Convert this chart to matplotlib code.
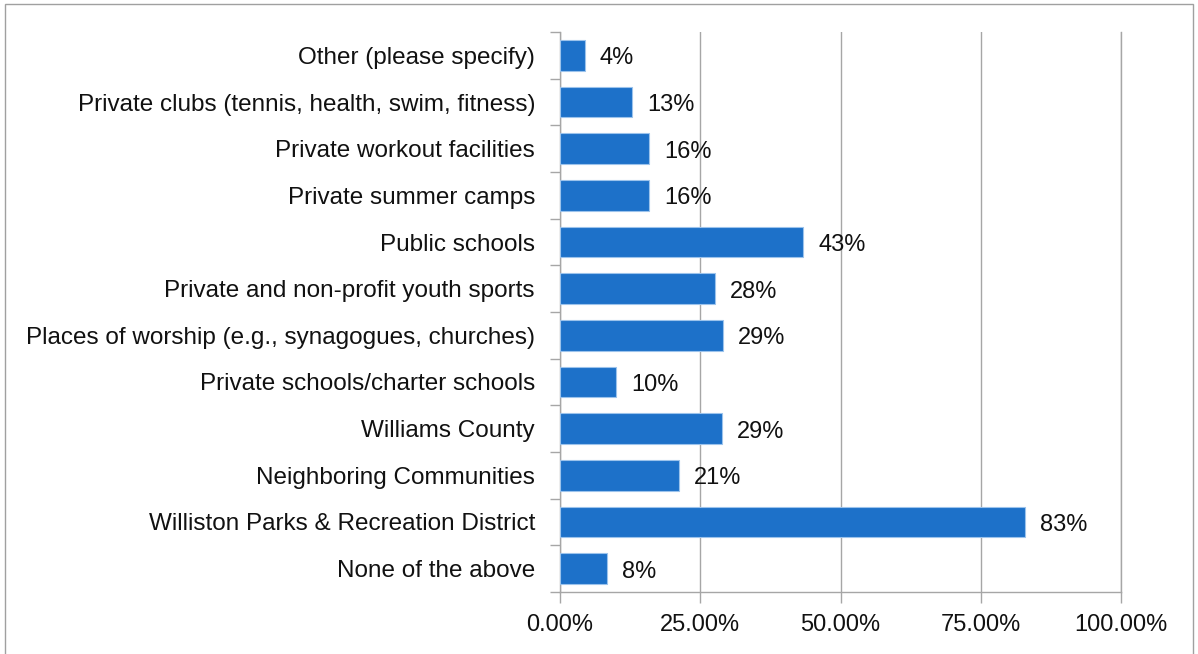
import matplotlib.pyplot as plt
from matplotlib.patches import Rectangle
from matplotlib.ticker import FixedLocator

# 카테고리 (위에서 아래 순서)
categories = [
    'Other (please specify)',
    'Private clubs (tennis, health, swim, fitness)',
    'Private workout facilities',
    'Private summer camps',
    'Public schools',
    'Private and non-profit youth sports',
    'Places of worship (e.g., synagogues, churches)',
    'Private schools/charter schools',
    'Williams County',
    'Neighboring Communities',
    'Williston Parks & Recreation District',
    'None of the above',
]
values = [4.4, 12.8, 15.9, 15.9, 43.4, 27.6, 29.1, 10.0, 28.8, 21.2, 82.9, 8.4]
labels = ['4%', '13%', '16%', '16%', '43%', '28%', '29%', '10%', '29%', '21%', '83%', '8%']
xticks = [0, 25, 50, 75, 100]

plt.rcParams['font.family'] = ['Liberation Sans', 'DejaVu Sans']

fig = plt.figure(figsize=(11.98, 6.54), dpi=100)
ax = fig.add_axes([560 / 1198, 62 / 654, 561 / 1198, 560 / 654])

pos = list(range(len(categories)))[::-1]
ax.barh(pos, values, height=0.66, color='#1D71C9', edgecolor='#9CC3EC', linewidth=0.8, zorder=3)

# 데이터 레이블
for p, v, t in zip(pos, values, labels):
    ax.annotate(t, (v, p), xytext=(15, -3), textcoords='offset pixels',
                va='center', ha='left', fontsize=17, color='#111111')

ax.set_xlim(0, 100)
ax.set_ylim(-0.5, len(categories) - 0.5)
ax.set_xticks(xticks)
ax.set_xticklabels([f'{x:.2f}%' for x in xticks], fontsize=17, color='#111111')
ax.set_yticks(pos)
ax.set_yticklabels(categories, fontsize=17.5, color='#111111')
ax.tick_params(axis='y', which='major', length=0, pad=18)
ax.yaxis.set_minor_locator(FixedLocator([p + 0.5 for p in range(-1, len(categories))]))
ax.tick_params(axis='y', which='minor', length=7, color='#a6a6a6', width=1)
ax.tick_params(axis='x', length=8, color='#a6a6a6', width=1, pad=8)

ax.grid(axis='x', color='#a6a6a6', linewidth=1, zorder=0)
ax.spines['top'].set_visible(False)
for s in ['left', 'bottom', 'right']:
    ax.spines[s].set_color('#a6a6a6')
    ax.spines[s].set_linewidth(1)

# 바깥 테두리
fig.patches.append(Rectangle((5 / 1198, -0.02), 1188 / 1198, 1 - 4 / 654 + 0.02,
                             transform=fig.transFigure, fill=False, edgecolor='#a0a0a0', linewidth=1))

fig.savefig('out.png', dpi=100)
